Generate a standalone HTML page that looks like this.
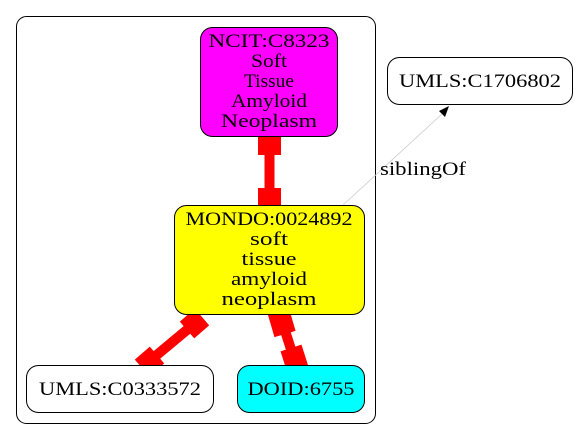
<!DOCTYPE html>
<html><head><meta charset="utf-8"><style>body{margin:0;background:#fff}svg{display:block}text{font-family:"Liberation Serif",serif;font-size:19px}</style></head><body>
<svg width="579" height="440" viewBox="0 0 579 440" xmlns="http://www.w3.org/2000/svg" text-anchor="middle">
<rect x="16.5" y="16.5" width="359" height="407" rx="10" fill="none" stroke="#000"/>
<line x1="269.5" y1="137" x2="269.5" y2="205" stroke="red" stroke-width="10"/>
<rect x="258" y="131" width="23" height="24" fill="red"/>
<rect x="258" y="188" width="23" height="23" fill="red"/>
<line x1="200" y1="319" x2="146" y2="364" stroke="red" stroke-width="10"/>
<line x1="202" y1="317" x2="187" y2="330" stroke="red" stroke-width="22"/>
<line x1="142" y1="368" x2="157" y2="355" stroke="red" stroke-width="22"/>
<line x1="279" y1="312" x2="297" y2="368" stroke="red" stroke-width="10"/>
<line x1="278" y1="310" x2="285" y2="334" stroke="red" stroke-width="22"/>
<line x1="291" y1="348" x2="298" y2="370" stroke="red" stroke-width="22"/>
<line x1="343" y1="205" x2="442" y2="114" stroke="#ccc" stroke-width="0.8"/>
<polygon points="449,106 439,111 445,117" fill="#000"/>
<text x="423" y="175" textLength="86" lengthAdjust="spacingAndGlyphs">siblingOf</text>
<rect x="200.5" y="27.5" width="137" height="109" rx="12" fill="#f0f" stroke="#000"/>
<text x="269" y="47" textLength="121" lengthAdjust="spacingAndGlyphs">NCIT:C8323</text>
<text x="269" y="67" textLength="36" lengthAdjust="spacingAndGlyphs">Soft</text>
<text x="269" y="87" textLength="50" lengthAdjust="spacingAndGlyphs">Tissue</text>
<text x="269" y="107" textLength="76" lengthAdjust="spacingAndGlyphs">Amyloid</text>
<text x="269" y="127" textLength="96" lengthAdjust="spacingAndGlyphs">Neoplasm</text>
<rect x="174.5" y="205.5" width="190" height="109" rx="12" fill="#ff0" stroke="#000"/>
<text x="269" y="225" textLength="167" lengthAdjust="spacingAndGlyphs">MONDO:0024892</text>
<text x="269" y="245" textLength="38" lengthAdjust="spacingAndGlyphs">soft</text>
<text x="269" y="265" textLength="55" lengthAdjust="spacingAndGlyphs">tissue</text>
<text x="269" y="285" textLength="76" lengthAdjust="spacingAndGlyphs">amyloid</text>
<text x="269" y="305" textLength="95" lengthAdjust="spacingAndGlyphs">neoplasm</text>
<rect x="26.5" y="365.5" width="187" height="47" rx="12" fill="#fff" stroke="#000"/>
<text x="120" y="395" textLength="162" lengthAdjust="spacingAndGlyphs">UMLS:C0333572</text>
<rect x="237.5" y="365.5" width="127" height="47" rx="12" fill="#0ff" stroke="#000"/>
<text x="301" y="395" textLength="107" lengthAdjust="spacingAndGlyphs">DOID:6755</text>
<rect x="387.5" y="57.5" width="185" height="47" rx="12" fill="#fff" stroke="#000"/>
<text x="480" y="87" textLength="162" lengthAdjust="spacingAndGlyphs">UMLS:C1706802</text>
</svg>
</body></html>
